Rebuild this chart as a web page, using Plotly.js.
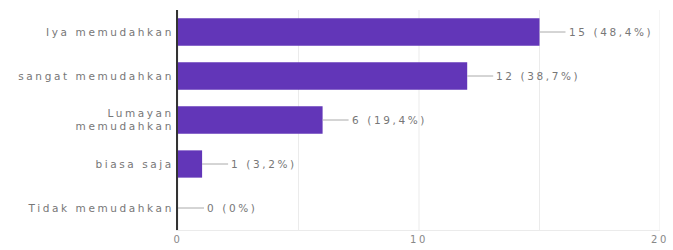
<!DOCTYPE html>
<html>
<head>
<meta charset="utf-8">
<script src="https://cdn.plot.ly/plotly-3.0.1.min.js"></script>
<style>
html,body{margin:0;padding:0;background:#fff;}
#chart{width:673px;height:250px;}
#chart .ytick text, #chart .annotation-text, #chart .xtick text {letter-spacing:2.6px;}
</style>
</head>
<body>
<div id="chart"></div>
<script>
const categories = ["Iya memudahkan", "sangat memudahkan", "Lumayan<br>memudahkan", "biasa saja", "Tidak memudahkan"];
const counts = [15, 12, 6, 1, 0];
const labels = ["15 (48,4%)", "12 (38,7%)", "6 (19,4%)", "1 (3,2%)", "0 (0%)"];
const xTicks = [0, 10, 20];
const gridVals = [0, 5, 10, 15, 20];

const font = "DejaVu Sans, sans-serif";
const annotations = categories.map((c, i) => ({
  x: counts[i], y: c, xref: 'x', yref: 'y',
  text: labels[i], showarrow: false, align: 'left',
  xshift: 27, xanchor: 'left', yanchor: 'middle',
  font: {family: font, size: 10.5, color: '#777'}
}));
const leaders = categories.map((c, i) => ({
  type: 'line', xref: 'x', yref: 'y', xsizemode: 'pixel', xanchor: counts[i],
  x0: 0, x1: 26, y0: c, y1: c, line: {color: '#aaa', width: 1}
}));
const grids = gridVals.map(v => ({type: 'line', xref: 'x', yref: 'paper', x0: v, x1: v, y0: 0, y1: 1,
  line: {color: '#ebebeb', width: 1}, layer: 'below'}));

Plotly.newPlot('chart', [{
  type: 'bar', orientation: 'h', x: counts, y: categories,
  marker: {color: '#6236b8'}, width: 0.62, hoverinfo: 'none'
}], {
  width: 673, height: 250,
  margin: {l: 178, r: 13, t: 10, b: 20},
  paper_bgcolor: '#fff', plot_bgcolor: '#fff',
  showlegend: false,
  xaxis: {range: [0, 20], tickvals: xTicks, ticktext: xTicks.map(String),
    showgrid: false, zeroline: false,
    showline: true, linecolor: '#ebebeb', linewidth: 1,
    tickfont: {family: font, size: 10, color: '#888'}, ticks: '', ticklen: 0},
  yaxis: {autorange: 'reversed', showline: true, linecolor: '#333', linewidth: 2,
    ticks: '', ticklen: 0, ticklabelstandoff: 0, tickfont: {family: font, size: 10.5, color: '#777'},
    showgrid: false, zeroline: false},
  annotations: annotations,
  shapes: grids.concat(leaders)
}, {staticPlot: true});
</script>
</body>
</html>
